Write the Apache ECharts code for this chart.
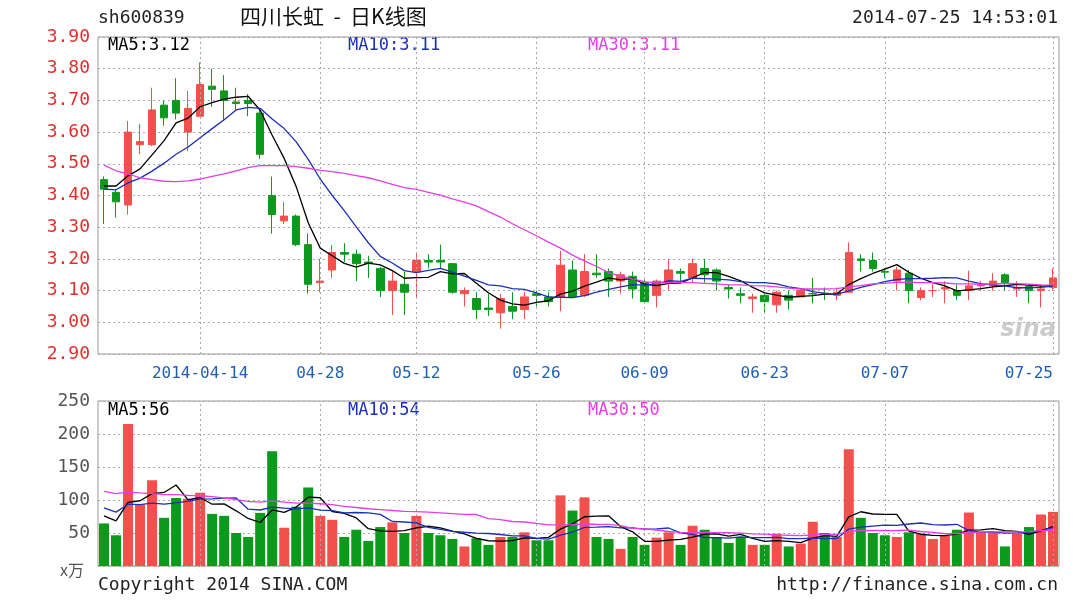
<!DOCTYPE html>
<html><head><meta charset="utf-8">
<script src="https://cdn.jsdelivr.net/npm/echarts@6/dist/echarts.min.js"></script>
<style>html,body{margin:0;padding:0;background:#fff}#c{width:1090px;height:600px}</style>
</head><body><div id="c"></div>
<script>
const year = '2014';
const dates = ['04-01','04-02','04-03','04-04','04-08','04-09','04-10','04-11','04-14','04-15','04-16','04-17','04-18','04-21','04-22','04-23','04-24','04-25','04-28','04-29','04-30','05-05','05-06','05-07','05-08','05-09','05-12','05-13','05-14','05-15','05-16','05-19','05-20','05-21','05-22','05-23','05-26','05-27','05-28','05-29','05-30','06-03','06-04','06-05','06-06','06-09','06-10','06-11','06-12','06-13','06-16','06-17','06-18','06-19','06-20','06-23','06-24','06-25','06-26','06-27','06-30','07-01','07-02','07-03','07-04','07-07','07-08','07-09','07-10','07-11','07-14','07-15','07-16','07-17','07-18','07-21','07-22','07-23','07-24','07-25'];
const opens  = [3.45,3.41,3.37,3.56,3.56,3.685,3.70,3.60,3.65,3.745,3.73,3.695,3.70,3.66,3.40,3.32,3.335,3.245,3.125,3.165,3.22,3.215,3.19,3.17,3.10,3.12,3.16,3.195,3.195,3.185,3.09,3.075,3.045,3.03,3.05,3.04,3.09,3.08,3.08,3.165,3.085,3.155,3.16,3.13,3.145,3.125,3.085,3.125,3.16,3.14,3.17,3.165,3.11,3.09,3.075,3.085,3.055,3.085,3.08,3.09,3.092,3.085,3.095,3.20,3.195,3.16,3.13,3.155,3.078,3.10,3.105,3.10,3.10,3.115,3.115,3.15,3.105,3.113,3.10,3.11];
const closes = [3.42,3.38,3.60,3.57,3.67,3.645,3.66,3.675,3.75,3.735,3.70,3.69,3.69,3.53,3.34,3.335,3.245,3.12,3.13,3.22,3.215,3.185,3.185,3.10,3.13,3.095,3.195,3.19,3.19,3.095,3.10,3.04,3.04,3.075,3.035,3.08,3.085,3.065,3.18,3.08,3.16,3.15,3.13,3.15,3.105,3.065,3.13,3.165,3.155,3.185,3.15,3.13,3.105,3.085,3.08,3.065,3.095,3.07,3.10,3.09,3.09,3.095,3.22,3.195,3.17,3.158,3.165,3.10,3.10,3.10,3.11,3.085,3.115,3.118,3.13,3.125,3.11,3.10,3.105,3.14];
const lows   = [3.31,3.33,3.34,3.53,3.556,3.62,3.64,3.54,3.65,3.68,3.635,3.67,3.65,3.515,3.28,3.31,3.24,3.09,3.095,3.14,3.19,3.13,3.14,3.08,3.023,3.023,3.08,3.17,3.17,3.09,3.05,3.01,3.02,2.98,3.01,3.01,3.05,3.05,3.035,3.08,3.08,3.14,3.08,3.09,3.075,3.065,3.047,3.10,3.13,3.125,3.125,3.10,3.075,3.06,3.03,3.03,3.03,3.04,3.08,3.06,3.07,3.07,3.095,3.16,3.16,3.14,3.10,3.06,3.07,3.08,3.06,3.07,3.07,3.10,3.10,3.10,3.08,3.06,3.047,3.10];
const highs  = [3.46,3.42,3.635,3.625,3.74,3.70,3.77,3.73,3.82,3.80,3.78,3.74,3.72,3.67,3.46,3.38,3.34,3.28,3.20,3.244,3.25,3.23,3.21,3.175,3.16,3.16,3.22,3.215,3.245,3.185,3.11,3.095,3.09,3.09,3.095,3.095,3.10,3.095,3.225,3.195,3.215,3.215,3.17,3.16,3.16,3.135,3.135,3.20,3.17,3.20,3.20,3.17,3.12,3.11,3.09,3.09,3.10,3.10,3.105,3.14,3.11,3.11,3.252,3.215,3.22,3.17,3.175,3.165,3.11,3.12,3.13,3.12,3.163,3.13,3.155,3.155,3.13,3.12,3.12,3.17];
const volumes = [64.5,46.6,215,92.6,130,73,103,102,111,79,76,50,44,80.5,174,58,90,119,76,70,44,55,38,59,66,50,76,50,46.6,41,29.6,42,32,44,44,51,39,39,107,84,104,44,41,26,44,32,43,51,32,61,55,44,35,44,32,32,49,29.6,34,67,50,44,177,73,50,46.6,44,51,49,41,45.6,55,81,51,51,29.6,49,59,78,82];
// closes / volumes of the sessions before 04-01 (needed for the moving averages at the left edge)
const preCloses = [3.92,3.90,3.93,3.85,3.78,3.70,3.62,3.55,3.50,3.45,3.40,3.38,3.36,3.35,3.33,3.32,3.30,3.32,3.35,3.36,3.40,3.38,3.42,3.45,3.40,3.38,3.44,3.46,3.45];
const preVolumes = [150,140,130,160,120,110,135,125,115,140,130,120,110,125,115,130,120,105,110,120,110,95,100,105,90,85,75,80,75.5];
const priceTicks = [2.90,3.00,3.10,3.20,3.30,3.40,3.50,3.60,3.70,3.80,3.90];
const volTicks = [0,50,100,150,200,250];
const markDates = ['04-14','04-28','05-12','05-26','06-09','06-23','07-07','07-25'];
const priceLegend = ['MA5:3.12', 'MA10:3.11', 'MA30:3.11'];
const volLegend = ['MA5:56', 'MA10:54', 'MA30:50'];

function ma(pre, arr, n){
  const all = pre.concat(arr), off = pre.length;
  return arr.map((_, i) => { let s = 0; for (let k = 0; k < n; k++) s += all[off + i - k]; return +(s / n).toFixed(3); });
}
const RED = '#f2504c', GREEN = '#0b9a1b', MA5C = '#000', MA10C = '#1c2fb8', MA30C = '#e43ee4';
const mono = '"DejaVu Sans Mono", monospace';
const kData = dates.map((d, i) => [opens[i], closes[i], lows[i], highs[i]]);
const volData = volumes.map((v, i) => ({ value: v, itemStyle: { color: closes[i] >= opens[i] ? RED : GREEN } }));
const markSet = new Set(markDates);
const vlines = { silent: true, symbol: 'none', label: { show: false }, lineStyle: { color: '#aaa', type: [2, 3], width: 1 }, data: markDates.map(d => ({ xAxis: d })) };
const p5 = ma(preCloses, closes, 5), p10 = ma(preCloses, closes, 10), p30 = ma(preCloses, closes, 30);
const v5 = ma(preVolumes, volumes, 5), v10 = ma(preVolumes, volumes, 10), v30 = ma(preVolumes, volumes, 30);
const line = (name, data, color, x, y) => ({ name, type: 'line', xAxisIndex: x, yAxisIndex: y, data, symbol: 'none', smooth: false, lineStyle: { color, width: 1.3 }, z: 5, silent: true });

const chart = echarts.init(document.getElementById('c'));
chart.setOption({
  animation: false,
  backgroundColor: '#fff',
  grid: [
    { left: 98, right: 31, top: 37, height: 317, show: true, borderColor: '#999', borderWidth: 1 },
    { left: 98, right: 31, top: 401, height: 165, show: true, borderColor: '#999', borderWidth: 1 }
  ],
  xAxis: [
    { type: 'category', gridIndex: 0, data: dates, boundaryGap: true, axisLine: { show: false }, axisTick: { show: false }, splitLine: { show: false },
      axisLabel: { interval: (i, v) => markSet.has(v), formatter: v => v === markDates[0] ? year + '-' + v : v, color: '#1e5fb4', fontFamily: mono, fontSize: 16, margin: 12, alignMaxLabel: 'right' } },
    { type: 'category', gridIndex: 1, data: dates, boundaryGap: true, axisLine: { show: false }, axisTick: { show: false }, axisLabel: { show: false }, splitLine: { show: false } }
  ],
  yAxis: [
    { type: 'value', gridIndex: 0, min: priceTicks[0], max: priceTicks[priceTicks.length - 1], interval: 0.1, axisLine: { show: false }, axisTick: { show: false },
      axisLabel: { color: '#e0302c', fontFamily: mono, fontSize: 18, formatter: v => v.toFixed(2), margin: 8 }, splitLine: { lineStyle: { color: '#aaa', type: [2, 3] } } },
    { type: 'value', gridIndex: 1, min: volTicks[0], max: volTicks[volTicks.length - 1], interval: 50, axisLine: { show: false }, axisTick: { show: false },
      axisLabel: { color: '#555', fontFamily: mono, fontSize: 18, margin: 8, formatter: v => v === 0 ? '' : String(v) }, splitLine: { lineStyle: { color: '#aaa', type: [2, 3] } } }
  ],
  series: [
    { type: 'candlestick', xAxisIndex: 0, yAxisIndex: 0, data: kData, barWidth: 8,
      itemStyle: { color: RED, color0: GREEN, borderColor: RED, borderColor0: GREEN, borderWidth: 1 }, markLine: vlines },
    line('MA5', p5, MA5C, 0, 0), line('MA10', p10, MA10C, 0, 0), line('MA30', p30, MA30C, 0, 0),
    { type: 'bar', xAxisIndex: 1, yAxisIndex: 1, data: volData, barWidth: 10, markLine: vlines },
    line('VMA5', v5, MA5C, 1, 1), line('VMA10', v10, MA10C, 1, 1), line('VMA30', v30, MA30C, 1, 1)
  ],
  graphic: [
    { type: 'text', left: 98, top: 9, style: { text: 'sh600839', font: '18px ' + mono, fill: '#222' } },
    { type: 'text', left: 240, top: 6, style: { text: '四川长虹  -  日K线图', font: '21px "Noto Sans CJK SC"', fill: '#111' } },
    { type: 'text', right: 32, top: 9, style: { text: '2014-07-25 14:53:01', font: '18px ' + mono, fill: '#222' } },
    { type: 'text', left: 108, top: 37, style: { text: priceLegend[0], font: '17px ' + mono, fill: MA5C } },
    { type: 'text', left: 348, top: 37, style: { text: priceLegend[1], font: '17px ' + mono, fill: MA10C } },
    { type: 'text', left: 588, top: 37, style: { text: priceLegend[2], font: '17px ' + mono, fill: MA30C } },
    { type: 'text', left: 108, top: 402, style: { text: volLegend[0], font: '17px ' + mono, fill: MA5C } },
    { type: 'text', left: 348, top: 402, style: { text: volLegend[1], font: '17px ' + mono, fill: MA10C } },
    { type: 'text', left: 588, top: 402, style: { text: volLegend[2], font: '17px ' + mono, fill: MA30C } },
    { type: 'text', left: 60, top: 562, style: { text: 'x万', font: '16px "Noto Sans CJK SC"', fill: '#555' } },
    { type: 'text', left: 98, top: 576, style: { text: 'Copyright 2014 SINA.COM', font: '18px ' + mono, fill: '#222' } },
    { type: 'text', right: 32, top: 576, style: { text: 'http://finance.sina.com.cn', font: '18px ' + mono, fill: '#222' } },
    { type: 'text', right: 34, top: 318, style: { text: 'sina', font: 'italic bold 24px "DejaVu Sans"', fill: 'rgba(160,160,160,0.55)' } }
  ]
});
</script></body></html>
